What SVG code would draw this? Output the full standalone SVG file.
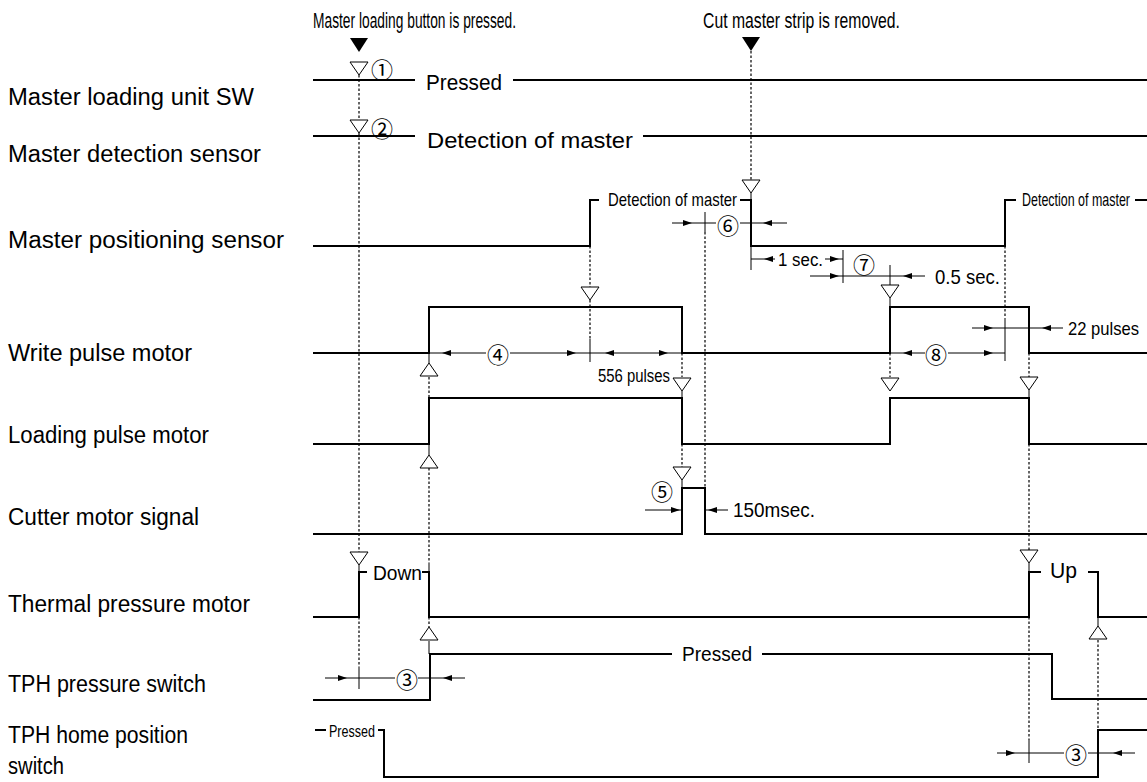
<svg xmlns="http://www.w3.org/2000/svg" width="1147" height="782" viewBox="0 0 1147 782">
<style>
.sig{fill:none;stroke:#000;stroke-width:2}
.dim{fill:none;stroke:#000;stroke-width:1}
.dot{fill:none;stroke:#000;stroke-width:1.2;stroke-dasharray:2.5 2}
.lbl{font-family:"Liberation Sans",Arial,sans-serif;font-size:23px;fill:#000}
.t{font-family:"Liberation Sans",Arial,sans-serif;fill:#000}
.cn{font-family:"Noto Sans CJK JP","DejaVu Sans",sans-serif;font-size:22px;text-anchor:middle;dominant-baseline:central;fill:#000}
</style>
<defs>
<path id="td" d="M-9,-13 L9,-13 L0,0 Z" fill="#fff" stroke="#000" stroke-width="1"/>
<path id="tu" d="M-9,13 L9,13 L0,0 Z" fill="#fff" stroke="#000" stroke-width="1"/>
<path id="tf" d="M-9,-14 L9,-14 L0,0 Z" fill="#000"/>
<path id="ar" d="M0,0 L-9,-3 L-9,3 Z" fill="#000"/>
<path id="al" d="M0,0 L9,-3 L9,3 Z" fill="#000"/>
</defs>
<rect width="1147" height="782" fill="#fff"/>

<g id="headers">
<text class="t" x="313" y="28" font-size="22" textLength="203" lengthAdjust="spacingAndGlyphs">Master loading button is pressed.</text>
<text class="t" x="703" y="28" font-size="22" textLength="197" lengthAdjust="spacingAndGlyphs">Cut master strip is removed.</text>
<use href="#tf" x="359" y="52"/>
<use href="#tf" x="751" y="51"/>
</g>

<g id="row-master-loading-sw">
<text class="lbl" x="8" y="105" textLength="246" lengthAdjust="spacingAndGlyphs">Master loading unit SW</text>
<path class="sig" d="M313,80 H415 M513,80 H1147"/>
<text class="t" x="426" y="90" font-size="22" textLength="76" lengthAdjust="spacingAndGlyphs">Pressed</text>
</g>

<g id="row-master-detection">
<text class="lbl" x="8" y="162" textLength="253" lengthAdjust="spacingAndGlyphs">Master detection sensor</text>
<path class="sig" d="M313,136 H415 M643,136 H1147"/>
<text class="t" x="427" y="148" font-size="22" textLength="206" lengthAdjust="spacingAndGlyphs">Detection of master</text>
</g>

<g id="row-master-positioning">
<text class="lbl" x="8" y="248" textLength="276" lengthAdjust="spacingAndGlyphs">Master positioning sensor</text>
<path class="sig" d="M313,246 H590 V200 H599 M740,200 H751 V246 H1005 V200 H1016 M1135,200 H1147"/>
<text class="t" x="608" y="206" font-size="19" textLength="129" lengthAdjust="spacingAndGlyphs">Detection of master</text>
<text class="t" x="1022" y="206" font-size="19" textLength="108" lengthAdjust="spacingAndGlyphs">Detection of master</text>
</g>

<g id="row-write-pulse">
<text class="lbl" x="8" y="361" textLength="184" lengthAdjust="spacingAndGlyphs">Write pulse motor</text>
<path class="sig" d="M313,353 H429 V307 H682 V353 H890 V307 H1029 V353 H1147"/>
</g>

<g id="row-loading-pulse">
<text class="lbl" x="8" y="443" textLength="201" lengthAdjust="spacingAndGlyphs">Loading pulse motor</text>
<path class="sig" d="M313,444 H429 V398 H682 V444 H890 V398 H1029 V444 H1147"/>
</g>

<g id="row-cutter">
<text class="lbl" x="8" y="525" textLength="191" lengthAdjust="spacingAndGlyphs">Cutter motor signal</text>
<path class="sig" d="M313,534 H682 V488 H705 V534 H1147"/>
</g>

<g id="row-thermal">
<text class="lbl" x="8" y="612" textLength="242" lengthAdjust="spacingAndGlyphs">Thermal pressure motor</text>
<path class="sig" d="M313,617 H359 V572 H367 M422,572 H429 V617 H1029 V572 H1041 M1088,572 H1098 V617 H1147"/>
<text class="t" x="373" y="580" font-size="20" textLength="49" lengthAdjust="spacingAndGlyphs">Down</text>
<text class="t" x="1050" y="578" font-size="22" textLength="27" lengthAdjust="spacingAndGlyphs">Up</text>
</g>

<g id="row-tph-pressure">
<text class="lbl" x="8" y="692" textLength="198" lengthAdjust="spacingAndGlyphs">TPH pressure switch</text>
<path class="sig" d="M313,700 H430 V654 H672 M762,654 H1052 V699 H1147"/>
<text class="t" x="682" y="661" font-size="20" textLength="70" lengthAdjust="spacingAndGlyphs">Pressed</text>
</g>

<g id="row-tph-home">
<text class="lbl" x="8" y="743" textLength="180" lengthAdjust="spacingAndGlyphs">TPH home position</text>
<text class="lbl" x="8" y="774" textLength="56" lengthAdjust="spacingAndGlyphs">switch</text>
<path class="sig" d="M315,730 H326 M378,730 H384 V777 H1098 V730 H1147"/>
<text class="t" x="329" y="737" font-size="17" textLength="46" lengthAdjust="spacingAndGlyphs">Pressed</text>
</g>

<g id="connectors">
<path class="dot" d="M359,75 V122 M359,133 V552 M359,617 V667 M751,51 V180 M590,246 V287 M590,300 V339 M682,353 V377 M682,444 V467 M705,232 V488 M429,377 V398 M429,468 V563 M429,617 V627 M890,353 V377 M1005,246 V318 M1029,353 V377 M1029,444 V550 M1029,617 V740 M1098,640 V730"/>
<path class="dim" d="M359,565 V572 M751,193 V200 M682,391 V398 M682,480 V488 M890,298 V307 M1029,390 V398 M1029,563 V572 M429,641 V654 M429,353 V363 M429,444 V455 M429,563 V572 M1098,617 V626 M359,667 V689 M590,339 V362 M705,212 V232 M751,246 V270 M843,250 V283 M890,265 V285 M1005,318 V361 M1029,740 V763"/>
<use href="#td" x="359" y="75"/>
<use href="#td" x="359" y="133"/>
<use href="#td" x="751" y="193"/>
<use href="#td" x="590" y="300"/>
<use href="#td" x="890" y="298"/>
<use href="#td" x="682" y="391"/>
<use href="#td" x="890" y="391"/>
<use href="#td" x="1029" y="390"/>
<use href="#td" x="682" y="480"/>
<use href="#td" x="359" y="565"/>
<use href="#td" x="1029" y="563"/>
<use href="#tu" x="429" y="363"/>
<use href="#tu" x="429" y="455"/>
<use href="#tu" x="429" y="627"/>
<use href="#tu" x="1098" y="626"/>
<path class="dim" d="M672,223 H716 M740,223 H787"/>
<use href="#ar" x="692" y="223"/><use href="#al" x="763" y="223"/>
<path class="dim" d="M751,259 H775 M825,259 H843"/>
<use href="#al" x="764" y="259"/><use href="#ar" x="839" y="259"/>
<text class="t" x="778" y="266" font-size="18" textLength="45" lengthAdjust="spacingAndGlyphs">1 sec.</text>
<path class="dim" d="M810,276 H925"/>
<use href="#ar" x="839" y="276"/><use href="#al" x="903" y="276"/>
<text class="t" x="935" y="284" font-size="21" textLength="65" lengthAdjust="spacingAndGlyphs">0.5 sec.</text>
<path class="dim" d="M429,353 H486 M510,353 H590 H682"/>
<use href="#al" x="442" y="353"/><use href="#ar" x="576" y="353"/>
<use href="#al" x="605" y="353"/><use href="#ar" x="668" y="353"/>
<text class="t" x="598" y="382" font-size="18" textLength="72" lengthAdjust="spacingAndGlyphs">556 pulses</text>
<path class="dim" d="M890,353 H925 M948,353 H1005"/>
<use href="#al" x="903" y="353"/><use href="#ar" x="993" y="353"/>
<path class="dim" d="M972,328 H1063"/>
<use href="#ar" x="993" y="328"/><use href="#al" x="1042" y="328"/>
<text class="t" x="1068" y="335" font-size="19" textLength="71" lengthAdjust="spacingAndGlyphs">22 pulses</text>
<path class="dim" d="M645,510 H682 M705,510 H728"/>
<use href="#ar" x="680" y="510"/><use href="#al" x="708" y="510"/>
<text class="t" x="733" y="517" font-size="21" textLength="82" lengthAdjust="spacingAndGlyphs">150msec.</text>
<path class="dim" d="M325,678 H395 M418,678 H465"/>
<use href="#ar" x="347" y="678"/><use href="#al" x="443" y="678"/>
<path class="dim" d="M997,753 H1064 M1088,753 H1135"/>
<use href="#ar" x="1015" y="753"/><use href="#al" x="1113" y="753"/>
<text class="cn" x="382" y="68">①</text>
<text class="cn" x="382" y="127">②</text>
<text class="cn" x="407" y="678">③</text>
<text class="cn" x="498" y="353">④</text>
<text class="cn" x="662" y="490">⑤</text>
<text class="cn" x="728" y="224">⑥</text>
<text class="cn" x="864" y="263">⑦</text>
<text class="cn" x="936" y="353">⑧</text>
<text class="cn" x="1076" y="753">③</text>
</g>
</svg>
